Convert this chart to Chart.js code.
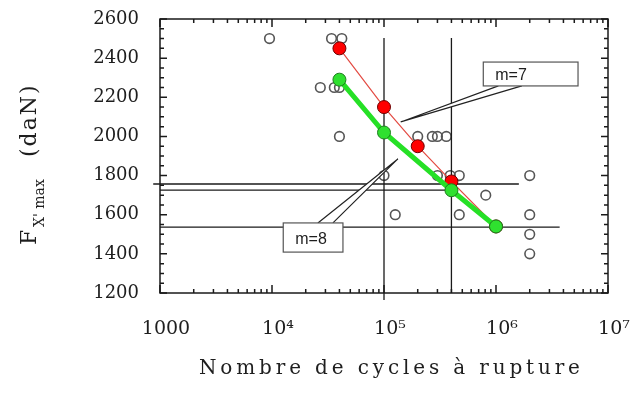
<!DOCTYPE html>
<html lang="fr">
<head>
<meta charset="UTF-8">
<title>Nombre de cycles à rupture</title>
<script src="https://cdn.jsdelivr.net/npm/chart.js"></script>
<style>
  html, body { margin: 0; padding: 0; background: #ffffff; }
  canvas { display: block; }
</style>
</head>
<body>
<canvas id="fatigue" width="630" height="397"></canvas>
<script>
  // Courbe m=7 (rouge) et m=8 (verte)
  var redCycles = [40000, 100000, 200000, 400000, 1000000];
  var redForce = [2450, 2150, 1950, 1770, 1540];
  var greenCycles = [40000, 100000, 400000, 1000000];
  var greenForce = [2290, 2020, 1725, 1540];

  // Essais (cercles vides)
  var testCycles = [9500, 34000, 42000, 27000, 36000, 40000, 40000,
                    200000, 270000, 300000, 360000,
                    100000, 300000, 390000, 470000, 2000000,
                    810000, 126000, 470000, 2000000, 2000000, 2000000];
  var testForce = [2500, 2500, 2500, 2250, 2250, 2250, 2000,
                   2000, 2000, 2000, 2000,
                   1800, 1800, 1800, 1800, 1800,
                   1700, 1600, 1600, 1600, 1500, 1400];

  // Traits de repère (début / fin)
  var guideCycles = [[100000, 100000], [400000, 400000], [870, 1600000], [1000, 380000], [1000, 3700000]];
  var guideForce = [[2503, 1164], [2503, 1200], [1757, 1757], [1726, 1726], [1537, 1537]];

  var xDecades = [1000, 10000, 100000, 1000000, 10000000];
  var xTickLabels = ['1000', '10⁴', '10⁵', '10⁶', '10⁷'];
  var yTicks = [1200, 1400, 1600, 1800, 2000, 2200, 2400, 2600];

  function pts(xs, ys) {
    return xs.map(function (x, i) { return { x: x, y: ys[i] }; });
  }

  var serif = '"DejaVu Serif", "Liberation Serif", serif';

  // bulles de légende, ancrées en coordonnées du graphe
  var callouts = [
    { text: 'm=7', box: [770000, 5400000, 2380, 2258], tip: [141000, 2074], base: [1050000, 1700000], side: 'bottom' },
    { text: 'm=8', box: [12600, 43000, 1558, 1409], tip: [133000, 1885], base: [25700, 35000], side: 'top' }
  ];

  var guideSets = guideCycles.map(function (xs, i) {
    return {
      data: pts(xs, guideForce[i]),
      showLine: true,
      borderColor: '#1a1a1a',
      borderWidth: 1.3,
      pointRadius: 0,
      clip: false,
      order: 3
    };
  });

  var decor = {
    id: 'decor',
    afterDraw: function (chart) {
      var ctx = chart.ctx, a = chart.chartArea;
      var sx = chart.scales.x, sy = chart.scales.y;
      ctx.save();

      // cadre + graduations intérieures
      ctx.strokeStyle = '#1a1a1a';
      ctx.lineWidth = 1.5;
      ctx.strokeRect(a.left, a.top, a.right - a.left, a.bottom - a.top);
      ctx.beginPath();
      for (var d = 1000; d <= 10000000; d *= 10) {
        for (var k = 1; k <= 9; k++) {
          var v = d * k;
          if (v > 10000000) break;
          var px = sx.getPixelForValue(v), len = k === 1 ? 8 : 4;
          ctx.moveTo(px, a.bottom); ctx.lineTo(px, a.bottom - len);
          ctx.moveTo(px, a.top); ctx.lineTo(px, a.top + len);
        }
      }
      for (var f = 1200; f <= 2600; f += 50) {
        var py = sy.getPixelForValue(f), ln = f % 200 === 0 ? 7 : 4;
        ctx.moveTo(a.left, py); ctx.lineTo(a.left + ln, py);
        ctx.moveTo(a.right, py); ctx.lineTo(a.right - ln, py);
      }
      ctx.stroke();

      // bulles m=7 / m=8
      callouts.forEach(function (c) {
        var x0 = sx.getPixelForValue(c.box[0]), x1 = sx.getPixelForValue(c.box[1]);
        var y0 = sy.getPixelForValue(c.box[2]), y1 = sy.getPixelForValue(c.box[3]);
        var by = c.side === 'bottom' ? y1 : y0;
        ctx.beginPath();
        ctx.moveTo(sx.getPixelForValue(c.base[0]), by);
        ctx.lineTo(sx.getPixelForValue(c.tip[0]), sy.getPixelForValue(c.tip[1]));
        ctx.lineTo(sx.getPixelForValue(c.base[1]), by);
        ctx.fillStyle = '#ffffff';
        ctx.fill();
        ctx.lineWidth = 1.2;
        ctx.strokeStyle = '#222';
        ctx.stroke();
        ctx.fillRect(x0, y0, x1 - x0, y1 - y0);
        ctx.strokeStyle = '#555';
        ctx.strokeRect(x0, y0, x1 - x0, y1 - y0);
        ctx.fillStyle = '#1e1e1e';
        ctx.font = '16px "Liberation Sans", Arial, sans-serif';
        ctx.textAlign = 'left';
        ctx.textBaseline = 'middle';
        ctx.fillText(c.text, x0 + 12, (y0 + y1) / 2 + 2);
      });

      // titre de l'axe des abscisses, espacé
      var title = 'Nombre de cycles à rupture';
      ctx.font = '20px ' + serif;
      ctx.letterSpacing = '0px';
      var w = ctx.measureText(title).width;
      ctx.letterSpacing = ((381 - w) / (title.length - 1)).toFixed(2) + 'px';
      ctx.textAlign = 'left';
      ctx.textBaseline = 'alphabetic';
      ctx.fillStyle = '#1e1e1e';
      ctx.fillText(title, 199, 374);

      // titre de l'axe des ordonnées : F_X'max (daN)
      ctx.translate(36, 245);
      ctx.rotate(-Math.PI / 2);
      ctx.letterSpacing = '0px';
      ctx.font = '22px ' + serif;
      ctx.fillText('F', 0, 0);
      ctx.font = '14px ' + serif;
      ctx.fillText("X' max", 18, 8);
      ctx.font = '22px ' + serif;
      ctx.letterSpacing = '2px';
      ctx.fillText('(daN)', 88, 0);
      ctx.restore();
    }
  };

  new Chart(document.getElementById('fatigue'), {
    type: 'scatter',
    data: {
      datasets: [
        {
          label: 'm=8',
          data: pts(greenCycles, greenForce),
          showLine: true,
          borderColor: '#26e026',
          borderWidth: 5,
          pointRadius: 6.5,
          pointBackgroundColor: '#2fe02f',
          pointBorderColor: '#1d7d1d',
          pointBorderWidth: 1,
          order: 1
        },
        {
          label: 'm=7',
          data: pts(redCycles, redForce),
          showLine: true,
          borderColor: '#e34a42',
          borderWidth: 1.2,
          pointRadius: 6.5,
          pointBackgroundColor: '#ff0000',
          pointBorderColor: '#6b0000',
          pointBorderWidth: 1,
          order: 2
        }
      ].concat(guideSets, [
        {
          label: 'essais',
          data: pts(testCycles, testForce),
          pointRadius: 4.8,
          pointBackgroundColor: 'rgba(255,255,255,0)',
          pointBorderColor: '#555555',
          pointBorderWidth: 1.6,
          order: 4
        }
      ])
    },
    options: {
      responsive: false,
      animation: false,
      layout: { padding: { top: 19, right: 22, left: 0, bottom: 0 } },
      plugins: { legend: { display: false }, tooltip: { enabled: false } },
      scales: {
        x: {
          type: 'logarithmic',
          min: 1000,
          max: 10000000,
          grid: { display: false, drawTicks: false },
          border: { display: false },
          afterBuildTicks: function (scale) {
            scale.ticks = xDecades.map(function (v) { return { value: v }; });
          },
          afterFit: function (scale) {
            scale.height = 104;
            scale.paddingLeft = 0;
            scale.paddingRight = 0;
          },
          ticks: {
            autoSkip: false,
            maxRotation: 0,
            padding: 25,
            labelOffset: 6,
            color: '#1e1e1e',
            font: { family: serif, size: 19 },
            callback: function (v, i) { return xTickLabels[i]; }
          }
        },
        y: {
          min: 1200,
          max: 2600,
          grid: { display: false, drawTicks: false },
          border: { display: false },
          afterBuildTicks: function (scale) {
            scale.ticks = yTicks.map(function (v) { return { value: v }; });
          },
          afterFit: function (scale) {
            scale.width = 160;
            scale.paddingTop = 0;
            scale.paddingBottom = 0;
          },
          ticks: {
            padding: 21,
            color: '#1e1e1e',
            font: { family: serif, size: 18 },
            callback: function (v) { return String(v); }
          }
        }
      }
    },
    plugins: [decor]
  });
</script>
</body>
</html>
